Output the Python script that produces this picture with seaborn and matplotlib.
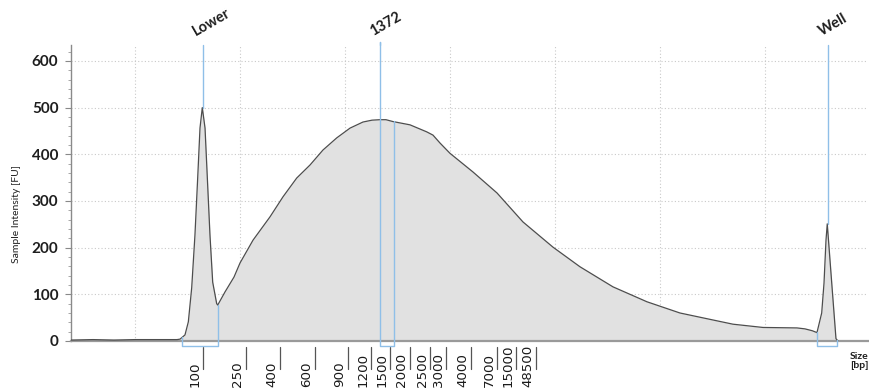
import numpy as np
import pandas as pd
import matplotlib
matplotlib.use("Agg")
import matplotlib.pyplot as plt
from matplotlib.ticker import AutoMinorLocator
import seaborn as sns

# ---- data (x = migration position, arbitrary units; y = intensity [FU]) ----
pos = [3.9, 6.0, 8.0, 10.0, 12.0, 13.3, 14.0, 14.29, 14.76, 15.08, 15.40,
       15.71, 15.97, 16.19, 16.41, 16.67, 16.89, 17.14, 17.40, 17.78, 17.88,
       18.57, 19.43, 20.0, 21.24, 22.86, 24.10, 25.40, 26.67, 27.90, 29.21,
       30.48, 31.71, 32.57, 33.33, 33.90, 34.57, 36.19, 37.78, 38.38, 39.05,
       40.0, 42.19, 44.48, 46.95, 49.81, 52.38, 55.52, 58.76, 61.90, 65.05,
       66.95, 69.81, 73.05, 73.8, 74.5, 74.95, 75.40, 75.62, 75.81, 75.93,
       76.35, 76.76, 76.95]
intensity = [2, 3, 2, 3, 3, 3, 3, 4, 13, 41, 114,
             227, 349, 456, 500, 456, 349, 227, 126, 80, 77,
             105, 137, 167, 216, 266, 309, 349, 377, 409, 435,
             456, 469, 473, 474, 474, 470, 463, 448, 441, 424,
             402, 362, 317, 255, 201, 159, 116, 84, 60, 45,
             36, 29, 28, 26, 22, 18, 60, 124, 216, 251,
             126, 5, 0]

ladder_bp = ["100", "250", "400", "600", "900", "1200", "1500", "2000",
             "2500", "3000", "4000", "7000", "15000", "48500"]
ladder_pos = [16.48, 20.57, 23.81, 27.14, 30.29, 32.48, 34.29, 36.19,
              38.10, 39.62, 42.0, 44.48, 46.29, 48.19]

peak_names = ["Lower", "1372", "Well"]
peak_pos = [16.43, 33.33, 76.03]
peak_height = [500, 640, 251]
region_left = [14.50, 33.29, 74.92]
region_right = [17.93, 34.71, 76.83]
region_left_y = [8, 640, 19]
region_right_y = [77, 472, 2]

y_ticks = [0, 100, 200, 300, 400, 500, 600]
grid_x = [10, 20, 30, 40, 50, 60, 70]

df = pd.DataFrame({"pos": pos, "intensity": intensity})

sns.set_theme(style="white")
plt.rcParams["font.family"] = ["Lato", "DejaVu Sans"]

W, H = 870, 392
fig = plt.figure(figsize=(W / 100, H / 100), dpi=100)
ax = fig.add_axes([71 / W, 1 - 341 / H, (868 - 71) / W, (341 - 45) / H])

YMAX = 634.0
ax.set_xlim(3.905, 79.81)
ax.set_ylim(0, YMAX)

# grid
for g in y_ticks[1:]:
    ax.axhline(g, color="#c9c9c9", lw=0.8, ls=(0, (1, 2)), zorder=0)
for g in grid_x:
    ax.axvline(g, color="#c9c9c9", lw=0.8, ls=(0, (1, 2)), zorder=0)

# trace
ax.fill_between(df["pos"], 0, df["intensity"], color="#e1e1e1", lw=0, zorder=1)
sns.lineplot(data=df, x="pos", y="intensity", ax=ax, color="#4d4d4d",
             lw=0.9, estimator=None, sort=False, zorder=3)

blue = "#8fbfe8"
px_per_unit = (341 - 45) / YMAX
PT = 72 / 100  # points per pixel
ybot = -5 / px_per_unit  # region bracket bottom (5 px below axis)
for name, p, h in zip(peak_names, peak_pos, peak_height):
    ax.plot([p, p], [YMAX, h], color=blue, lw=1.0, zorder=4, clip_on=False)
    ax.annotate(name, xy=(p, YMAX), xycoords="data",
                xytext=(-5 * PT, 6 * PT),
                textcoords="offset points", rotation=30, rotation_mode="anchor",
                ha="left", va="bottom", fontsize=10.5, fontweight="bold",
                color="#1e1e1e", annotation_clip=False)
for l, r, ly, ry in zip(region_left, region_right, region_left_y, region_right_y):
    ax.plot([l, l, r, r], [ly, ybot, ybot, ry], color=blue, lw=1.0,
            zorder=4, clip_on=False)

# ladder ticks
t_top = -6 / px_per_unit
t_bot = -28 / px_per_unit
lab_y = -46 / px_per_unit
for lab, p in zip(ladder_bp, ladder_pos):
    ax.plot([p, p], [t_top, t_bot], color="#555555", lw=0.9, clip_on=False)
    ax.annotate(lab, xy=(p, lab_y), xycoords="data", xytext=(-1.5 * PT, 0),
                textcoords="offset points", rotation=90, ha="right",
                va="bottom", fontsize=9.6, color="#1a1a1a",
                family="DejaVu Sans", annotation_clip=False)

# axes styling
ax.set_xticks([])
ax.set_yticks(y_ticks)
ax.yaxis.set_minor_locator(AutoMinorLocator(5))
ax.tick_params(axis="y", which="major", left=True, length=4, width=0.8,
               color="#888888", pad=5, labelsize=11)
ax.tick_params(axis="y", which="minor", left=True, length=2.5, width=0.6,
               color="#999999")
for t in ax.get_yticklabels():
    t.set_fontweight("bold")
    t.set_color("#1e1e1e")
ax.set_xlabel("")
ax.set_ylabel("")
for s in ["top", "right"]:
    ax.spines[s].set_visible(False)
ax.spines["left"].set_color("#8a8a8a")
ax.spines["left"].set_linewidth(1.0)
ax.spines["bottom"].set_color("#9a9a9a")
ax.spines["bottom"].set_linewidth(1.6)
ax.set_facecolor("white")

fig.text(17 / W, 1 - 214 / H, "Sample Intensity [FU]", rotation=90,
         ha="center", va="center", fontsize=7.5, color="#1e1e1e")
fig.text(859 / W, 1 - 361 / H, "Size\n[bp]", ha="center", va="center",
         fontsize=7.5, fontweight="bold", color="#1e1e1e", linespacing=1.1)

fig.savefig("out.png", dpi=100)
